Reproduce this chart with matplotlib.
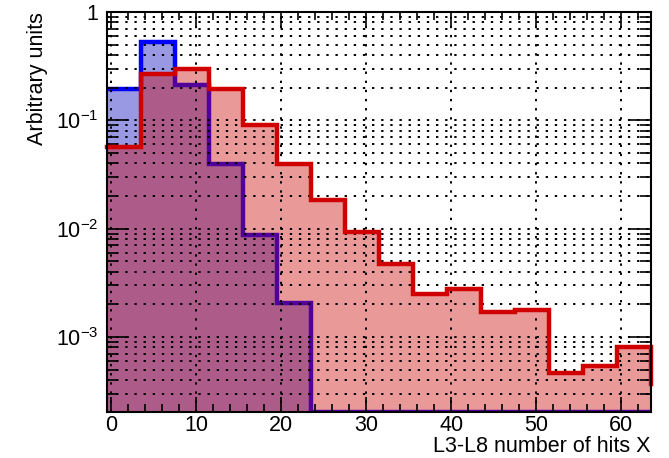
import numpy as np
import matplotlib
matplotlib.use("Agg")
import matplotlib.pyplot as plt
from matplotlib.ticker import LogLocator, MultipleLocator, NullFormatter, FuncFormatter

plt.rcParams['font.family'] = ['Liberation Sans', 'DejaVu Sans']
plt.rcParams['mathtext.fontset'] = 'custom'
plt.rcParams['mathtext.rm'] = 'Liberation Sans'
plt.rcParams['mathtext.it'] = 'Liberation Sans:italic'

# ---- data ----
bin_edges = np.arange(-0.5, 64.0, 4.0)          # 17 edges, 16 bins
blue_values = [0.195, 0.526, 0.210, 0.0398, 0.00867, 0.00208,
               0, 0, 0, 0, 0, 0, 0, 0, 0, 0]
red_values = [0.0566, 0.269, 0.295, 0.195, 0.0897, 0.0398, 0.0182, 0.0093,
              0.00475, 0.00251, 0.00279, 0.00170, 0.00179, 0.000466, 0.000540, 0.000809]
red_next_bin = 0.00037
x_label = "L3-L8 number of hits X"
y_label = "Arbitrary units"
y_min, y_max = 2.03e-4, 1.0

fig = plt.figure(figsize=(6.69, 4.58), dpi=100)
ax = fig.add_axes([0.160, 0.1004, 0.813, 0.8735])
ax.set_yscale('log')

edges = np.asarray(bin_edges)
def step_xy(vals):
    v = np.asarray(vals, dtype=float)
    v = np.where(v > 0, v, y_min)
    x = np.repeat(edges, 2)[1:-1]
    y = np.repeat(v, 2)
    return x, y

bx, by = step_xy(blue_values)
rx, ry = step_xy(red_values)

ax.fill_between(bx, by, 1e-8, color=(0.0, 0.0, 0.73, 0.4), linewidth=0, zorder=1.0)
ax.plot(bx, by, color='#0000ff', lw=3.2, zorder=1.1, solid_joinstyle='miter')
ax.fill_between(rx, ry, 1e-8, color=(0.80, 0.0, 0.0, 0.4), linewidth=0, zorder=1.2)
rxl = np.append(rx, edges[-1])
ryl = np.append(ry, red_next_bin)
ax.plot(rxl, ryl, color='#d00000', lw=3.2, zorder=3, solid_joinstyle='miter', clip_on=False)

ax.set_xlim(edges[0], edges[-1])
ax.set_ylim(y_min, y_max)

# ticks
ax.xaxis.set_major_locator(MultipleLocator(10))
ax.xaxis.set_minor_locator(MultipleLocator(2))
ax.yaxis.set_major_locator(LogLocator(base=10, numticks=10))
ax.yaxis.set_minor_locator(LogLocator(base=10, subs=np.arange(2, 10), numticks=20))
ax.yaxis.set_minor_formatter(NullFormatter())

def yfmt(v, pos):
    e = int(round(np.log10(v)))
    if e == 0:
        return "1"
    return r"$10^{%d}$" % e
ax.yaxis.set_major_formatter(FuncFormatter(yfmt))

fs = 15.5
ax.tick_params(axis='both', which='both', direction='in', top=True, right=True,
               labelsize=fs, width=1.2, colors='black')
ax.tick_params(axis='y', which='major', length=16, pad=6)
ax.tick_params(axis='y', which='minor', length=8)
ax.tick_params(axis='x', which='major', length=11, pad=2)
ax.tick_params(axis='x', which='minor', length=5.5)

ax.set_axisbelow('line')
ax.grid(True, which='major', axis='x', color='black', linestyle=(0, (1.2, 3.5)), linewidth=1.4)
ax.grid(True, which='both', axis='y', color='black', linestyle=(0, (1.2, 3.5)), linewidth=1.4)

for s in ax.spines.values():
    s.set_linewidth(1.5)
    s.set_zorder(4)

ax.set_xlabel(x_label, loc='right', fontsize=fs, labelpad=0)
ax.set_ylabel(y_label, loc='top', fontsize=fs, labelpad=6)

fig.savefig("out.png", dpi=100)
